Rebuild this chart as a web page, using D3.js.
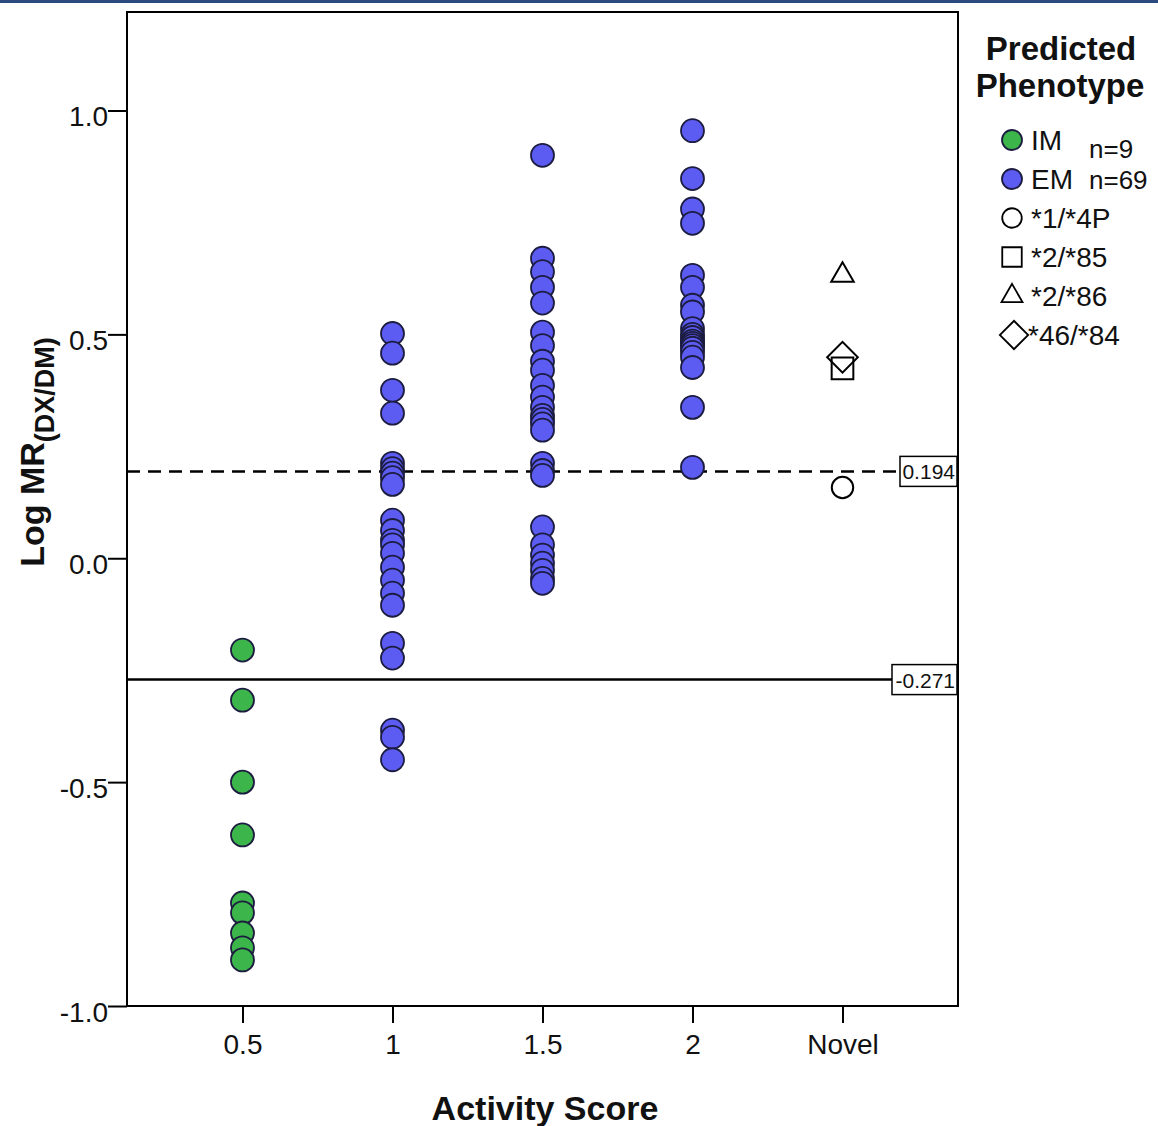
<!DOCTYPE html>
<html>
<head>
<meta charset="utf-8">
<script src="https://cdn.jsdelivr.net/npm/d3@7/dist/d3.min.js"></script>
<style>
html,body{margin:0;padding:0;background:#fff;}
svg{display:block;font-family:"Liberation Sans",Arial,sans-serif;}
svg text{font-family:"Liberation Sans",Arial,sans-serif;}
</style>
</head>
<body>
<svg id="chart" width="1158" height="1126"></svg>
<script>
// ---- data ----
const categories = ["0.5", "1", "1.5", "2", "Novel"];
const yTicks = [-1.0, -0.5, 0.0, 0.5, 1.0];
const yTickLabels = ["-1.0", "-0.5", "0.0", "0.5", "1.0"];
const imValues = [-0.205, -0.317, -0.5, -0.618, -0.77, -0.792, -0.837, -0.87, -0.897];
const em1Values = [0.502, 0.458, 0.375, 0.324, 0.212, 0.2, 0.19, 0.18, 0.165, 0.085, 0.062, 0.04, 0.03, 0.011, -0.02, -0.049, -0.078, -0.105, -0.19, -0.223, -0.384, -0.40, -0.45];
const em15Values = [0.9, 0.67, 0.64, 0.605, 0.57, 0.505, 0.475, 0.44, 0.42, 0.386, 0.36, 0.337, 0.319, 0.31, 0.30, 0.286, 0.212, 0.196, 0.185, 0.07, 0.03, 0.007, -0.011, -0.027, -0.045, -0.056];
const em2Values = [0.955, 0.848, 0.78, 0.748, 0.632, 0.605, 0.565, 0.55, 0.513, 0.5, 0.493, 0.485, 0.48, 0.475, 0.469, 0.46, 0.449, 0.426, 0.337, 0.203];
const novelGenotypes = ["*1/*4P", "*2/*85", "*2/*86", "*46/*84"];
const novelValues = [0.158, 0.424, 0.632, 0.449];
const refLines = [0.194, -0.271];
const refLabels = ["0.194", "-0.271"];
const legendGroups = ["IM", "EM"];
const legendCounts = ["n=9", "n=69"];

// ---- layout ----
const svg = d3.select("#chart");
const pLeft = 127, pRight = 958, pTop = 12, pBottom = 1006;
const x = d3.scalePoint().domain(categories).range([pLeft, pRight]).padding(0.77);
const y = d3.scaleLinear().domain([-1, 1.22]).range([pBottom, pTop]);
const green = "#3cb54a", blue = "#5c5cf2", edge = "#1c1c40";
const FF = "Liberation Sans, Arial, sans-serif";

// top bar
svg.append("rect").attr("x", 0).attr("y", 0).attr("width", 1158).attr("height", 3).attr("fill", "#2c4a7e");

// frame
svg.append("rect").attr("x", pLeft).attr("y", pTop).attr("width", pRight - pLeft).attr("height", pBottom - pTop)
  .attr("fill", "none").attr("stroke", "#000").attr("stroke-width", 2);

// y axis
const yAxis = svg.append("g").attr("transform", `translate(${pLeft},0)`)
  .call(d3.axisLeft(y).tickValues(yTicks).tickFormat((d, i) => yTickLabels[i]).tickSize(19).tickPadding(0));
yAxis.attr("font-family", FF);
yAxis.select(".domain").remove();
yAxis.selectAll(".tick line").attr("stroke", "#000").attr("stroke-width", 2);
yAxis.selectAll(".tick text").attr("font-size", 28).attr("fill", "#111").attr("dy", "0.55em");

// x axis
const xAxis = svg.append("g").attr("transform", `translate(0,${pBottom})`)
  .call(d3.axisBottom(x).tickSize(17).tickPadding(11));
xAxis.attr("font-family", FF);
xAxis.select(".domain").remove();
xAxis.selectAll(".tick line").attr("stroke", "#000").attr("stroke-width", 2);
xAxis.selectAll(".tick text").attr("font-size", 28).attr("fill", "#111");

// reference lines
const labelBoxes = [{w: 58}, {w: 66}];
refLines.forEach((v, i) => {
  const yy = y(v);
  const bw = labelBoxes[i].w;
  svg.append("line").attr("x1", pLeft).attr("x2", pRight - bw).attr("y1", yy).attr("y2", yy)
    .attr("stroke", "#000").attr("stroke-width", 2.5)
    .attr("stroke-dasharray", i === 0 ? "13,8" : null);
  svg.append("rect").attr("x", pRight - bw).attr("y", yy - 15).attr("width", bw - 1).attr("height", 30)
    .attr("fill", "#fff").attr("stroke", "#000").attr("stroke-width", 1.5);
  svg.append("text").attr("x", pRight - 3).attr("y", yy + 8).attr("text-anchor", "end")
    .attr("font-size", 21).attr("fill", "#111").text(refLabels[i]);
});

// points
function drawCircles(cat, vals, fill) {
  svg.append("g").selectAll("circle").data(vals).join("circle")
    .attr("cx", x(cat)).attr("cy", d => y(d)).attr("r", 11.5)
    .attr("fill", fill).attr("stroke", edge).attr("stroke-width", 1.8);
}
drawCircles("0.5", imValues, green);
drawCircles("1", em1Values, blue);
drawCircles("1.5", em15Values, blue);
drawCircles("2", em2Values, blue);

const novelShapes = [
  {type: d3.symbolCircle, size: 360, rot: 0},
  {type: d3.symbolSquare, size: 470, rot: 0},
  {type: d3.symbolTriangle, size: 220, rot: 0},
  {type: d3.symbolSquare, size: 470, rot: 45}
];
novelValues.forEach((v, i) => {
  const s = novelShapes[i];
  svg.append("path").attr("d", d3.symbol().type(s.type).size(s.size)())
    .attr("transform", `translate(${x("Novel")},${y(v)}) rotate(${s.rot})`)
    .attr("fill", i === 3 ? "none" : "#fff").attr("stroke", "#000").attr("stroke-width", 2);
});

// axis titles
const yt = svg.append("text").attr("transform", `translate(44,452) rotate(-90)`)
  .attr("text-anchor", "middle").attr("font-weight", "bold").attr("fill", "#111");
yt.append("tspan").attr("font-size", 34).text("Log MR");
yt.append("tspan").attr("font-size", 27).attr("dy", 10).text("(DX/DM)");

svg.append("text").attr("x", 545).attr("y", 1120).attr("text-anchor", "middle")
  .attr("font-weight", "bold").attr("font-size", 34).attr("fill", "#111").text("Activity Score");

// legend
const lg = svg.append("g");
lg.append("text").attr("x", 1061).attr("y", 60).attr("text-anchor", "middle").attr("font-weight", "bold")
  .attr("font-size", 33).attr("fill", "#111").text("Predicted");
lg.append("text").attr("x", 1060).attr("y", 97).attr("text-anchor", "middle").attr("font-weight", "bold")
  .attr("font-size", 33).attr("fill", "#111").text("Phenotype");

const lgRowsY = [140, 179];
legendGroups.forEach((g, i) => {
  lg.append("circle").attr("cx", 1012).attr("cy", lgRowsY[i]).attr("r", 10)
    .attr("fill", i === 0 ? green : blue).attr("stroke", edge).attr("stroke-width", 1.8);
  lg.append("text").attr("x", 1031).attr("y", lgRowsY[i] + 10).attr("font-size", 28).attr("fill", "#111").text(g);
  lg.append("text").attr("x", 1089).attr("y", lgRowsY[i] + (i === 0 ? 18 : 10)).attr("font-size", 26).attr("fill", "#111").text(legendCounts[i]);
});
const lgNovelY = [218, 257, 296, 335];
const lgShapes = [
  {type: d3.symbolCircle, size: 300, rot: 0},
  {type: d3.symbolSquare, size: 380, rot: 0},
  {type: d3.symbolTriangle, size: 190, rot: 0},
  {type: d3.symbolSquare, size: 400, rot: 45}
];
novelGenotypes.forEach((g, i) => {
  const s = lgShapes[i];
  lg.append("path").attr("d", d3.symbol().type(s.type).size(s.size)())
    .attr("transform", `translate(${i === 3 ? 1014 : 1012},${lgNovelY[i]}) rotate(${s.rot})`)
    .attr("fill", "none").attr("stroke", "#000").attr("stroke-width", 1.8);
  lg.append("text").attr("x", i === 3 ? 1028 : 1031).attr("y", lgNovelY[i] + 10).attr("font-size", 28).attr("fill", "#111").text(g);
});
</script>
</body>
</html>
